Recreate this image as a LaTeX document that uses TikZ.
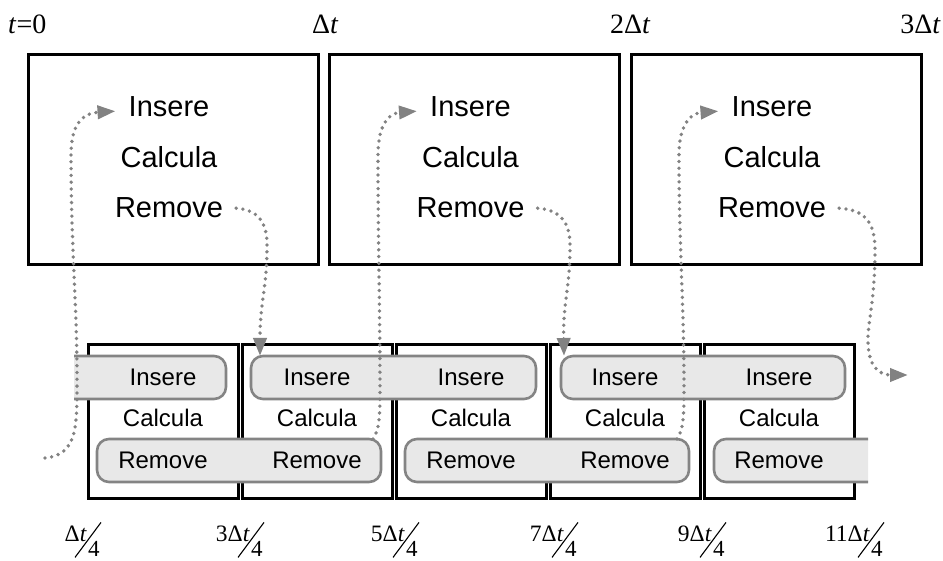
\documentclass[tikz,border=0pt]{standalone}
\usepackage{fontspec}
\setmainfont{Liberation Serif}
\newfontfamily\arialf{Liberation Sans}
\usetikzlibrary{arrows.meta}
\definecolor{barfill}{HTML}{E8E8E8}
\definecolor{bargray}{HTML}{848484}
\definecolor{arrgray}{HTML}{828282}
\begin{document}
\begin{tikzpicture}[x=1pt,y=-1pt,
  bigbox/.style={draw=black,line width=3pt,minimum width=290pt,minimum height=210pt,anchor=north west,inner sep=0pt,outer sep=0pt},
  smallbox/.style={draw=black,line width=3pt,minimum width=150pt,minimum height=153pt,anchor=north west,inner sep=0pt,outer sep=0pt},
  bar/.style={draw=bargray,fill=barfill,line width=2.6pt,rounded corners=12pt},
  toptxt/.style={font=\arialf\fontsize{29}{34}\selectfont,anchor=base,inner sep=0pt},
  bottxt/.style={font=\arialf\fontsize{24}{28}\selectfont,anchor=base,inner sep=0pt},
  timetxt/.style={font=\fontsize{28}{32}\selectfont,inner sep=0pt},
  numtxt/.style={font=\fontsize{23.5}{26}\selectfont,inner sep=0pt,anchor=base east},
  dentxt/.style={font=\fontsize{23}{24}\selectfont,inner sep=0pt,anchor=base west},
  slash/.style={draw=black,line width=1.1pt},
  flow/.style={draw=arrgray,line width=3.8pt,line cap=round,dash pattern=on 0pt off 6.8pt,-{Triangle[length=18pt,width=13pt,fill=arrgray]}},
]
\useasboundingbox (0,0) rectangle (943,561);

% time labels
\node[timetxt,anchor=base west] (T0) at (8,34) {\textit{t}=0};
\node[timetxt,anchor=base west] (T1) at (312,34) {Δ\textit{t}};
\node[timetxt,anchor=base west] (T2) at (610,34) {2Δ\textit{t}};
\node[timetxt,anchor=base east] (T3) at (941,34) {3Δ\textit{t}};

% top boxes
\node[bigbox] (B1) at (28,55) {};
\node[bigbox] (B2) at (329.5,55) {};
\node[bigbox] (B3) at (631,55) {};
\foreach \n/\x in {1/169,2/470.5,3/772}{
  \node[toptxt] (I\n) at (\x,117) {Insere};
  \node[toptxt] (C\n) at (\x,168) {Calcula};
  \node[toptxt] (R\n) at (\x,218) {Remove};
}

% bottom boxes
\foreach \n/\x in {1/88,2/242,3/396,4/550,5/704}{
  \node[smallbox] (b\n) at (\x,345) {};
}

% bars
\begin{scope}
  \clip (74,330) rectangle (300,420);
  \path[bar] (40,356) rectangle (226,399);
\end{scope}
\path[bar] (251,356) rectangle (536,399);
\path[bar] (561,356) rectangle (845,399);
\path[bar] (97,439) rectangle (381,482);
\path[bar] (405,439) rectangle (689,482);
\begin{scope}
  \clip (690,420) rectangle (868,500);
  \path[bar] (714,439) rectangle (900,482);
\end{scope}

% bottom texts
\foreach \n/\x in {1/163,2/317,3/471,4/625,5/779}{
  \node[bottxt] (bi\n) at (\x,385) {Insere};
  \node[bottxt] (bc\n) at (\x,427) {Calcula};
  \node[bottxt] (br\n) at (\x,468) {Remove};
}

% fraction labels
\foreach \n/\x/\num in {1/75/{Δ\textit{t}},2/238/{3Δ\textit{t}},3/393/{5Δ\textit{t}},4/552/{7Δ\textit{t}},5/700/{9Δ\textit{t}},6/858/{11Δ\textit{t}}}{
  \node[numtxt] (fn\n) at (\x+12,541) {\num};
  \node[dentxt] (fd\n) at (\x+13,556) {4};
  \draw[slash] (fn\n.south east) ++(-12,16) -- ++(26,-35);
}

% flow arrows
\coordinate (s1) at (45,458);
\coordinate (s3) at (373,439);
\coordinate (s5) at (677,439);
\coordinate (e6) at (908,375);
\draw[flow] (s1) .. controls (78,455) and (77,425) .. (77,380) .. controls (77,300) and (71,250) .. (71,155) .. controls (71,120) and (86,113) .. ([shift={(-13,4)}]I1.west);
\draw[flow] ([shift={(13,0)}]R1.east) .. controls (258,210) and (267,222) .. (267,245) .. controls (267,290) and (260,300) .. ([shift={(18,11)}]b2.north west);
\draw[flow] (s3) .. controls (379,430) and (380,420) .. (380,390) .. controls (380,300) and (378,250) .. (378,155) .. controls (378,120) and (392,113) .. ([shift={(-13,4)}]I2.west);
\draw[flow] ([shift={(13,0)}]R2.east) .. controls (560,210) and (570,222) .. (570,245) .. controls (570,290) and (563,300) .. ([shift={(14,11)}]b4.north west);
\draw[flow] (s5) .. controls (683,430) and (684,420) .. (684,390) .. controls (684,300) and (679,250) .. (679,155) .. controls (679,120) and (694,113) .. ([shift={(-13,4)}]I3.west);
\draw[flow] ([shift={(13,0)}]R3.east) .. controls (865,210) and (875,222) .. (875,250) .. controls (875,300) and (868,320) .. (868,340) .. controls (868,368) and (880,375) .. (e6);
\end{tikzpicture}
\end{document}
